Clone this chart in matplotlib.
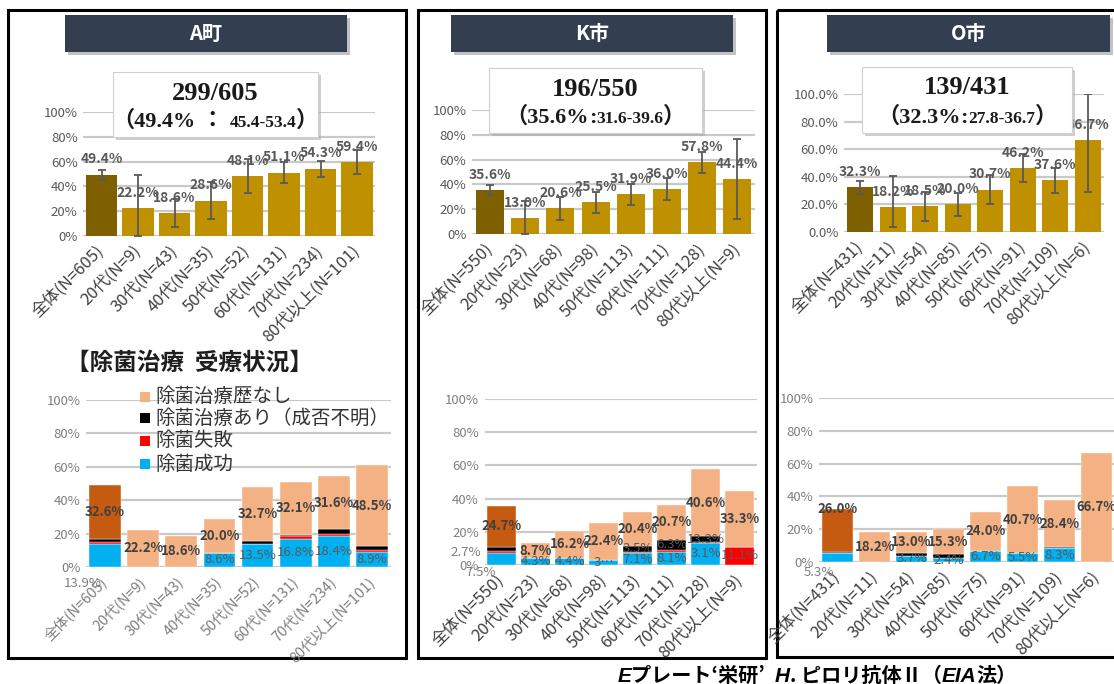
import numpy as np
import matplotlib
matplotlib.use('Agg')
import matplotlib.pyplot as plt
from matplotlib.patches import Rectangle
from matplotlib.offsetbox import TextArea, HPacker, AnnotationBbox
from matplotlib.transforms import ScaledTranslation

plt.rcParams['font.family'] = ['Noto Sans CJK JP', 'DejaVu Sans']

W, H = 1114, 684

# ---------------- data ----------------
cats_A = ['全体(N=605)', '20代(N=9)', '30代(N=43)', '40代(N=35)', '50代(N=52)',
          '60代(N=131)', '70代(N=234)', '80代以上(N=101)']
cats_K = ['全体(N=550)', '20代(N=23)', '30代(N=68)', '40代(N=98)', '50代(N=113)',
          '60代(N=111)', '70代(N=128)', '80代以上(N=9)']
cats_O = ['全体(N=431)', '20代(N=11)', '30代(N=54)', '40代(N=85)', '50代(N=75)',
          '60代(N=91)', '70代(N=109)', '80代以上(N=6)']

rate_A = [49.4, 22.2, 18.6, 28.6, 48.1, 51.1, 54.3, 59.4]
lo_A = [45.4, 0.0, 7.0, 13.6, 34.5, 42.5, 47.9, 49.8]
hi_A = [53.4, 49.4, 30.2, 43.6, 61.7, 59.7, 60.7, 69.0]

rate_K = [35.6, 13.0, 20.6, 25.5, 31.9, 36.0, 57.8, 44.4]
lo_K = [31.6, 0.0, 11.0, 16.9, 23.3, 27.1, 49.2, 11.9]
hi_K = [39.6, 26.7, 30.2, 34.1, 40.5, 44.9, 66.4, 76.9]

rate_O = [32.3, 18.2, 18.5, 20.0, 30.7, 46.2, 37.6, 66.7]
lo_O = [27.8, 3.9, 8.1, 11.5, 20.3, 36.0, 28.5, 29.0]
hi_O = [36.7, 40.8, 28.9, 28.5, 41.1, 56.4, 46.7, 100.0]

titles = ['A町', 'K市', 'O市']
summ_line1 = ['299/605', '196/550', '139/431']
summ_big = ['（49.4%', '（35.6%', '（32.3%']
summ_sep = [' ： ', ':', ':']
summ_ci = ['45.4-53.4', '31.6-39.6', '27.8-36.7']

# stacked: success, failure, unknown outcome, no treatment
series_names = ['除菌治療歴なし', '除菌治療あり（成否不明）', '除菌失敗', '除菌成功']

succ_A = [13.9, 0, 0, 8.6, 13.5, 16.8, 18.4, 8.9]
fail_A = [1.0, 0, 0, 0, 0, 1.5, 1.3, 1.0]
unk_A = [1.9, 0, 0, 0, 1.9, 0.7, 3.0, 2.6]
none_A = [32.6, 22.2, 18.6, 20.0, 32.7, 32.1, 31.6, 48.5]

succ_K = [7.5, 4.3, 4.4, 3.1, 7.1, 8.1, 13.3, 0]
fail_K = [0.7, 0, 0, 0, 0.9, 0.9, 0.8, 11.1]
unk_K = [2.7, 0, 0, 0, 3.5, 6.3, 3.1, 0]
none_K = [24.7, 8.7, 16.2, 22.4, 20.4, 20.7, 40.6, 33.3]

succ_O = [5.3, 0, 3.7, 2.4, 6.7, 5.5, 8.3, 0]
fail_O = [0.2, 0, 0, 0, 0, 0, 0, 0]
unk_O = [0.8, 0, 1.8, 2.3, 0, 0, 0.9, 0]
none_O = [26.0, 18.2, 13.0, 15.3, 24.0, 40.7, 28.4, 66.7]

# data-label texts as printed in the figure
lab_A = {'succ': ['13.9%', None, None, '8.6%', '13.5%', '16.8%', '18.4%', '8.9%'],
         'fail': [None] * 8,
         'unk': [None] * 8,
         'none': ['32.6%', '22.2%', '18.6%', '20.0%', '32.7%', '32.1%', '31.6%', '48.5%']}
lab_K = {'succ': ['7.5%', '4.3%', '4.4%', '3…', '7.1%', '8.1%', '3.1%', None],
         'fail': [None] * 7 + ['11.1%'],
         'unk': ['2.7%', None, None, None, '3.5%', '6.3%', '13.3%', None],
         'none': ['24.7%', '8.7%', '16.2%', '22.4%', '20.4%', '20.7%', '40.6%', '33.3%']}
lab_O = {'succ': ['5.3%', None, '3.7%', '2.4%', '6.7%', '5.5%', '8.3%', None],
         'fail': [None] * 8,
         'unk': [None] * 8,
         'none': ['26.0%', '18.2%', '13.0%', '15.3%', '24.0%', '40.7%', '28.4%', '66.7%']}

caption_parts = [('E', 'it'), ('プレート‘栄研’  ', 'jp'), ('H', 'it'), ('. ピロリ抗体Ⅱ（', 'jp'),
                 ('EIA', 'it'), ('法）', 'jp')]

# ---------------- styling ----------------
C_ALL = '#7F6000'
C_AGE = '#BF9000'
C_SUCC = '#00B0F0'
C_FAIL = '#FF0000'
C_UNK = '#000000'
C_NONE = '#F4B183'
C_NONE0 = '#C55A11'
C_GRID = '#C9C9C9'
NAVY = '#333F50'

fig = plt.figure(figsize=(W / 100, H / 100), dpi=100)


def px_axes(x0, x1, y100, y0, z=2):
    return fig.add_axes([x0 / W, 1 - y0 / H, (x1 - x0) / W, (y0 - y100) / H], zorder=z)


def style_axes(ax, cats, fmt, ytick_col, xtick_col, xfs):
    ax.set_xlim(-0.5, len(cats) - 0.5)
    ax.set_ylim(0, 100)
    ax.set_yticks(np.arange(0, 101, 20))
    ax.set_yticklabels([fmt.format(v) for v in np.arange(0, 101, 20)],
                       fontsize=9.5, color=ytick_col)
    ax.set_xticks(np.arange(len(cats)))
    ax.set_xticklabels(cats, rotation=45, ha='right', va='center',
                       rotation_mode='anchor', fontsize=xfs, color=xtick_col)
    for lab in ax.get_xticklabels():
        lab.set_transform(lab.get_transform() + ScaledTranslation(6 / 100, -2 / 100, fig.dpi_scale_trans))
    ax.tick_params(length=0, axis='y', pad=4)
    ax.tick_params(length=0, axis='x', pad=9)
    for s in ax.spines.values():
        s.set_visible(False)
    ax.set_axisbelow(True)
    ax.yaxis.grid(True, color=C_GRID, lw=1.6)
    ax.patch.set_alpha(0)


def top_chart(ax, cats, rate, lo, hi, width, fmt):
    x = np.arange(len(cats))
    rate = np.array(rate)
    cols = [C_ALL] + [C_AGE] * (len(cats) - 1)
    ax.bar(x, rate, width, color=cols, zorder=3)
    ax.errorbar(x, rate, yerr=[rate - np.array(lo), np.array(hi) - rate], fmt='none',
                ecolor='#595959', elinewidth=1.3, capsize=3, capthick=1.3, zorder=4)
    for xi, v in zip(x, rate):
        ax.annotate(f'{v:.1f}%', (xi, v), xytext=(0, 11), textcoords='offset points',
                    ha='center', va='center', fontsize=10, fontweight='bold',
                    color='#595959', zorder=5, annotation_clip=False)
    style_axes(ax, cats, fmt, '#595959', '#404040', 12)


def bottom_chart(ax, cats, succ, fail, unk, none, labs, width, overrides, xtick_col, xfs):
    x = np.arange(len(cats))
    bottom = np.zeros(len(cats))
    totals = np.array(succ) + np.array(fail) + np.array(unk) + np.array(none)
    for key, vals, col in [('succ', succ, C_SUCC), ('fail', fail, C_FAIL),
                           ('unk', unk, C_UNK), ('none', none, C_NONE)]:
        vals = np.array(vals, float)
        cols = [col] * len(cats)
        if key == 'none':
            cols[0] = C_NONE0
        ax.bar(x, vals, width, bottom=bottom, color=cols, edgecolor='white', lw=0.3, zorder=3)
        for i, s in enumerate(labs[key]):
            if s is None:
                continue
            ov = overrides.get((key, i))
            kw = dict(ha='center', va='center', fontsize=9.5, zorder=6, clip_on=False)
            if ov is None:
                px, py = x[i], bottom[i] + vals[i] / 2
                if key == 'none':
                    kw.update(fontweight='bold', color='#404040')
                else:
                    kw.update(color='#595959')
            elif ov == 'top':
                px, py = x[i], totals[i]
                kw.update(fontweight='bold', color='#404040')
            else:
                px, py = ov
                kw.update(color='#7F7F7F')
            ax.text(px, py, s, **kw)
        bottom += vals
    style_axes(ax, cats, '{:.0f}%', '#7F7F7F', xtick_col, xfs)


# background axes (panel frames)
bg = fig.add_axes([0, 0, 1, 1], zorder=0)
bg.set_xlim(0, W)
bg.set_ylim(H, 0)
bg.axis('off')
for (x0, y0, x1, y1) in [(8, 10, 406, 658), (418, 10, 766, 658), (777, 10, 1130, 657)]:
    bg.add_patch(Rectangle((x0, y0), x1 - x0, y1 - y0, fill=False, ec='black', lw=2.2))

# top charts
axA = px_axes(83.25, 375.25, 112, 236)
top_chart(axA, cats_A, rate_A, lo_A, hi_A, 0.85, '{:.0f}%')
axK = px_axes(472, 755, 110, 234)
top_chart(axK, cats_K, rate_K, lo_K, hi_K, 0.79, '{:.0f}%')
axO = px_axes(844, 1104, 94, 232)
top_chart(axO, cats_O, rate_O, lo_O, hi_O, 0.80, '{:.1f}%')

# bottom charts
bA = px_axes(86, 391, 400, 567)
bottom_chart(bA, cats_A, succ_A, fail_A, unk_A, none_A, lab_A, 0.83,
             {('succ', 0): (-0.58, -9.6)}, '#7F7F7F', 10.5)
bK = px_axes(484.5, 757, 399, 565)
bottom_chart(bK, cats_K, succ_K, fail_K, unk_K, none_K, lab_K, 0.85,
             {('succ', 0): (-0.63, -4.8), ('unk', 0): (-1.04, 7.8)}, '#404040', 12)
bO = px_axes(819, 1115, 398, 562)
bottom_chart(bO, cats_O, succ_O, fail_O, unk_O, none_O, lab_O, 0.84,
             {('succ', 0): (-0.5, -6.7), ('none', 0): 'top'}, '#404040', 12)

# overlay axes
ov = fig.add_axes([0, 0, 1, 1], zorder=10)
ov.set_xlim(0, W)
ov.set_ylim(H, 0)
ov.axis('off')
ov.patch.set_alpha(0)

title_boxes = [(65, 15, 347, 52), (451, 15, 733, 52), (827, 15, 1110, 52)]
summ_boxes = [(113, 72, 318, 137, 93, 121), (489, 68, 702, 133, 89, 117),
              (862, 67, 1072, 133, 88, 117)]
SERIF = ['Liberation Serif', 'Noto Sans CJK JP']
for i in range(3):
    x0, y0, x1, y1 = title_boxes[i]
    ov.add_patch(Rectangle((x0 + 3, y0 + 3), x1 - x0, y1 - y0, color='#9A9A9A', alpha=0.6, lw=0))
    ov.add_patch(Rectangle((x0, y0), x1 - x0, y1 - y0, color=NAVY, lw=0))
    ov.text((x0 + x1) / 2, (y0 + y1) / 2, titles[i], color='white', fontsize=14.5,
            fontweight='bold', ha='center', va='center')
    x0, y0, x1, y1, l1, l2 = summ_boxes[i]
    ov.add_patch(Rectangle((x0 + 3, y0 + 3), x1 - x0, y1 - y0, color='#A6A6A6', alpha=0.55, lw=0))
    ov.add_patch(Rectangle((x0, y0), x1 - x0, y1 - y0, fc='white', ec='#D0D0D0', lw=0.8))
    ov.text((x0 + x1) / 2, l1, summ_line1[i], fontsize=19, fontweight='bold',
            family=SERIF, ha='center', va='center', color='#1A1A1A')
    big = dict(fontsize=16, fontweight='bold', family=SERIF, color='#1A1A1A')
    small = dict(fontsize=12.5, fontweight='bold', family=SERIF, color='#1A1A1A')
    pack = HPacker(children=[TextArea(summ_big[i], textprops=big),
                             TextArea(summ_sep[i], textprops=big),
                             TextArea(summ_ci[i], textprops=small),
                             TextArea('）', textprops=big)],
                   align='baseline', pad=0, sep=0)
    ov.add_artist(AnnotationBbox(pack, ((x0 + x1) / 2, l2), xycoords='data',
                                 frameon=False, box_alignment=(0.5, 0.5), zorder=12))

# section title and legend
ov.text(66, 363, '【除菌治療  受療状況】', fontsize=17, fontweight='bold', ha='left',
        va='center', color='#1E1E1E')
leg_cols = [C_NONE, C_UNK, C_FAIL, C_SUCC]
leg_y = [397, 418, 441, 464]
for name, col, yy in zip(series_names, leg_cols, leg_y):
    ov.add_patch(Rectangle((140, yy - 5), 10, 10, color=col, lw=0))
    ov.text(155, yy, name, fontsize=14, ha='left', va='center', color='#333333')

# caption
cap_children = []
for txt, kind in caption_parts:
    if kind == 'it':
        tp = dict(fontsize=15, fontweight='bold', style='italic',
                  family=['Liberation Sans', 'DejaVu Sans'], color='black')
    else:
        tp = dict(fontsize=14.5, fontweight='bold', family=['Noto Sans CJK JP', 'DejaVu Sans'],
                  color='black')
    cap_children.append(TextArea(txt, textprops=tp))
ov.add_artist(AnnotationBbox(HPacker(children=cap_children, align='baseline', pad=0, sep=0),
                             (817, 675), xycoords='data', frameon=False,
                             box_alignment=(0.5, 0.5), zorder=12))

fig.savefig('out.png', dpi=100)
